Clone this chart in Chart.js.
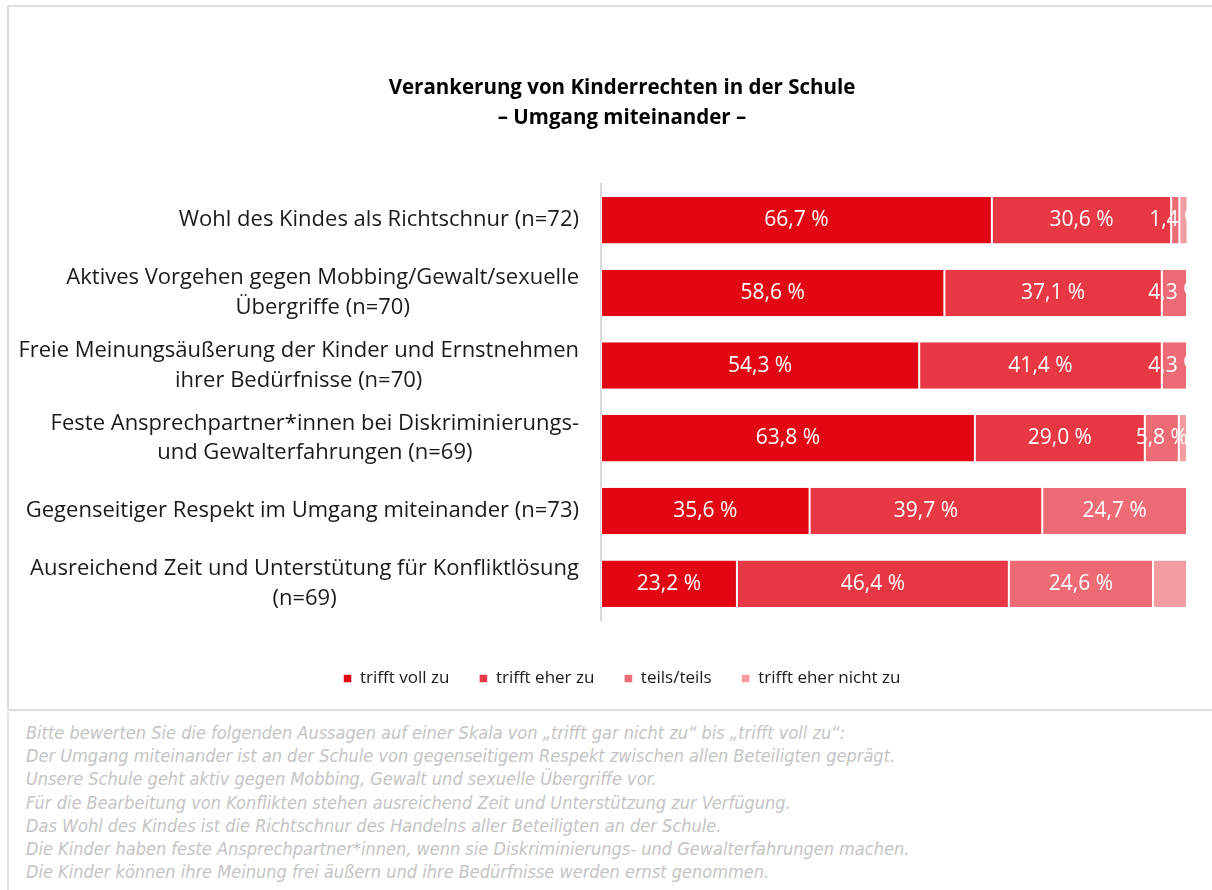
<!DOCTYPE html>
<html>
<head>
<meta charset="utf-8">
<script src="https://cdn.jsdelivr.net/npm/chart.js@4/dist/chart.umd.min.js"></script>
<style>
  html, body { margin: 0; padding: 0; background: #fff; }
  body { width: 1212px; height: 890px; overflow: hidden; position: relative; }
  #box {
    position: absolute; left: 7px; top: 5px; width: 1210px; height: 706px;
    border: 2px solid #dcdcdc; box-sizing: border-box;
  }
  #wrap { position: absolute; left: 2px; top: 2px; width: 1200px; height: 702px; }
  #note {
    position: absolute; left: 7px; top: 713px; width: 1210px; height: 180px;
    border-left: 2px solid #e2e2e2; box-sizing: border-box;
    padding: 8px 0 0 17px;
    font-family: "Liberation Sans Narrow", "DejaVu Sans Condensed", sans-serif;
    font-stretch: condensed; font-style: italic; font-size: 18px;
    line-height: 23.2px; color: #c4c4c4;
  }
</style>
</head>
<body>
<div id="box"><div id="wrap"><canvas id="chart"></canvas></div></div>
<div id="note">
Bitte bewerten Sie die folgenden Aussagen auf einer Skala von „trifft gar nicht zu“ bis „trifft voll zu“:<br>
Der Umgang miteinander ist an der Schule von gegenseitigem Respekt zwischen allen Beteiligten geprägt.<br>
Unsere Schule geht aktiv gegen Mobbing, Gewalt und sexuelle Übergriffe vor.<br>
Für die Bearbeitung von Konflikten stehen ausreichend Zeit und Unterstützung zur Verfügung.<br>
Das Wohl des Kindes ist die Richtschnur des Handelns aller Beteiligten an der Schule.<br>
Die Kinder haben feste Ansprechpartner*innen, wenn sie Diskriminierungs- und Gewalterfahrungen machen.<br>
Die Kinder können ihre Meinung frei äußern und ihre Bedürfnisse werden ernst genommen.
</div>
<script>
const FONT = '"Open Sans", "Noto Sans", sans-serif';

const categories = [
  ['Wohl des Kindes als Richtschnur (n=72)'],
  ['Aktives Vorgehen gegen Mobbing/Gewalt/sexuelle', 'Übergriffe (n=70)'],
  ['Freie Meinungsäußerung der Kinder und Ernstnehmen', 'ihrer Bedürfnisse (n=70)'],
  ['Feste Ansprechpartner*innen bei Diskriminierungs-', 'und Gewalterfahrungen (n=69)'],
  ['Gegenseitiger Respekt im Umgang miteinander (n=73)'],
  ['Ausreichend Zeit und Unterstütung für Konfliktlösung', '(n=69)']
];

const seriesNames = ['trifft voll zu', 'trifft eher zu', 'teils/teils', 'trifft eher nicht zu'];
const seriesColors = ['#e30613', '#e83843', '#ee6a74', '#f39ca1'];

const trifftVollZu = [66.7, 58.6, 54.3, 63.8, 35.6, 23.2];
const trifftEherZu = [30.6, 37.1, 41.4, 29.0, 39.7, 46.4];
const teilsTeils = [1.4, 4.3, 4.3, 5.8, 24.7, 24.6];
const trifftEherNichtZu = [1.4, 0, 0, 1.4, 0, 5.8];

const values = [trifftVollZu, trifftEherZu, teilsTeils, trifftEherNichtZu];
const showLabels = [true, true, true, false];

const fmt = v => v.toFixed(1).replace('.', ',') + ' %';

// category labels: block right aligned, lines centred inside block
const catLabels = {
  id: 'catLabels',
  afterDraw(chart) {
    const ctx = chart.ctx;
    const y = chart.scales.y;
    const right = chart.chartArea.left - 22;
    ctx.save();
    ctx.font = '22px ' + FONT;
    ctx.fillStyle = '#1a1a1a';
    ctx.textAlign = 'center';
    ctx.textBaseline = 'middle';
    const lh = 29.5;
    categories.forEach((lines, i) => {
      const w = Math.max(...lines.map(l => ctx.measureText(l).width));
      const cx = right - w / 2;
      const cy = y.getPixelForValue(i);
      lines.forEach((l, k) => {
        ctx.fillText(l, cx, cy + (k - (lines.length - 1) / 2) * lh);
      });
    });
    ctx.restore();
  }
};

// value labels inside bars, clipped to plot area
const valueLabels = {
  id: 'valueLabels',
  afterDatasetsDraw(chart) {
    const ctx = chart.ctx;
    const a = chart.chartArea;
    ctx.save();
    ctx.beginPath();
    ctx.rect(a.left, a.top, a.right - a.left, a.bottom - a.top);
    ctx.clip();
    ctx.font = '21px ' + FONT;
    ctx.fillStyle = '#ffffff';
    ctx.textAlign = 'center';
    ctx.textBaseline = 'middle';
    chart.data.datasets.forEach((ds, di) => {
      if (!showLabels[di]) return;
      chart.getDatasetMeta(di).data.forEach((bar, i) => {
        const v = ds.data[i];
        if (!v) return;
        const p = bar.getProps(['x', 'base', 'y'], true);
        ctx.fillText(fmt(v), (p.x + p.base) / 2, p.y);
      });
    });
    ctx.restore();
  }
};

new Chart(document.getElementById('chart'), {
  type: 'bar',
  data: {
    labels: categories.map(c => c.join(' ')),
    datasets: values.map((d, i) => ({
      label: seriesNames[i],
      data: d,
      backgroundColor: seriesColors[i],
      borderColor: '#ffffff',
      borderWidth: { left: 1, right: 1, top: 0, bottom: 0 },
      borderSkipped: false,
      categoryPercentage: 1,
      barPercentage: 0.64
    }))
  },
  options: {
    indexAxis: 'y',
    responsive: true,
    maintainAspectRatio: false,
    animation: false,
    layout: { padding: { left: 46, right: 24, top: 0, bottom: 14 } },
    scales: {
      x: { stacked: true, display: false, min: 0, max: 100 },
      y: {
        stacked: true,
        grid: { display: false, drawTicks: false },
        border: { display: true, color: '#d9d9d9', width: 2 },
        ticks: { display: false },
        afterFit(scale) { scale.width = 544; }
      }
    },
    plugins: {
      title: {
        display: true,
        text: ['Verankerung von Kinderrechten in der Schule', '– Umgang miteinander –'],
        color: '#000',
        font: { family: FONT, size: 20.5, weight: 'bold', lineHeight: 1.46 },
        padding: { top: 64, bottom: 51 }
      },
      legend: {
        position: 'bottom',
        title: {
          display: true,
          text: ' ',
          font: { size: 10, lineHeight: 1.2 },
          padding: 4
        },
        labels: {
          color: '#1a1a1a',
          font: { family: FONT, size: 17 },
          boxWidth: 8,
          boxHeight: 8,
          padding: 30
        }
      },
      tooltip: { enabled: false }
    }
  },
  plugins: [catLabels, valueLabels]
});
</script>
</body>
</html>
